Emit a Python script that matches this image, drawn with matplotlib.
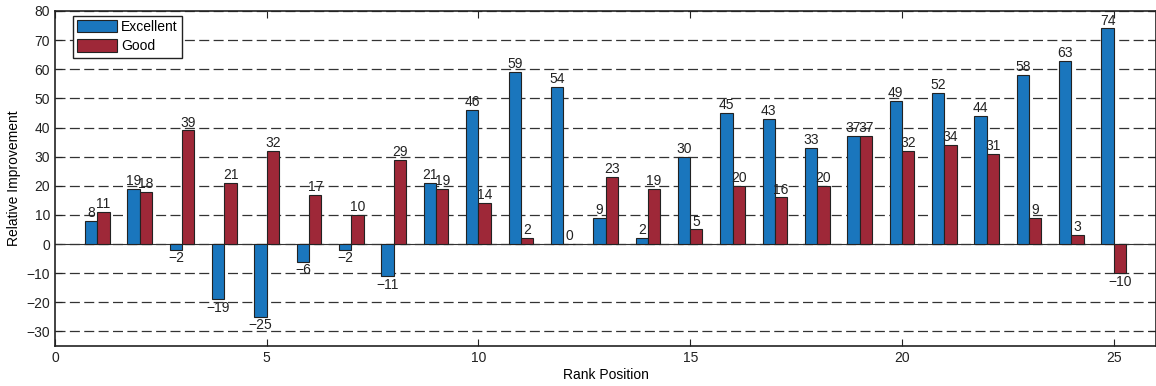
import numpy as np
import matplotlib.pyplot as plt

plt.rcParams['font.family'] = ['Liberation Sans', 'DejaVu Sans']

positions = list(range(1, 26))
excellent = [8, 19, -2, -19, -25, -6, -2, -11, 21, 46, 59, 54, 9, 2, 30,
             45, 43, 33, 37, 49, 52, 44, 58, 63, 74]
good = [11, 18, 39, 21, 32, 17, 10, 29, 19, 14, 2, 0, 23, 19, 5,
        20, 16, 20, 37, 32, 34, 31, 9, 3, -10]

blue = '#1a76bd'
red = '#9e2838'
w = 0.29

fig = plt.figure(figsize=(11.56, 3.86), dpi=100)
ax = fig.add_axes([55 / 1156, 1 - 346 / 386, 1101 / 1156, 335 / 386])

x = np.array(positions)
b1 = ax.bar(x - w / 2, excellent, w, color=blue, edgecolor='#222222',
            linewidth=0.8, label='Excellent', zorder=3)
b2 = ax.bar(x + w / 2, good, w, color=red, edgecolor='#222222',
            linewidth=0.8, label='Good', zorder=3)

for bars, vals in ((b1, excellent), (b2, good)):
    for rect, v in zip(bars, vals):
        cx = rect.get_x() + rect.get_width() / 2
        txt = str(v).replace('-', '\u2212')
        if v >= 0:
            ax.text(cx, v + 0.3, txt, ha='center', va='bottom',
                    fontsize=10, color='#222222', zorder=4)
        else:
            ax.text(cx, v - 0.5, txt, ha='center', va='top',
                    fontsize=10, color='#222222', zorder=4)

ax.axhline(0, color='#333333', linewidth=0.8, zorder=2)
ax.set_xlim(0, 26)
ax.set_ylim(-35, 80)
ax.set_xticks(range(0, 26, 5))
ax.set_yticks(range(-30, 81, 10))
ax.set_yticklabels([str(t).replace('-', '\u2212') for t in range(-30, 81, 10)])
ax.yaxis.grid(True, linestyle=(0, (8, 3.5)), color='#333333', linewidth=0.9,
              zorder=0)
ax.set_axisbelow(True)
ax.tick_params(direction='in', top=True, right=True, labelsize=10,
               length=5, width=0.8, colors='#222222')
for s in ax.spines.values():
    s.set_linewidth(1.2)
    s.set_color('#222222')

ax.set_xlabel('Rank Position', fontsize=10, labelpad=2)
ax.set_ylabel('Relative Improvement', fontsize=10, labelpad=4)

leg = ax.legend(loc='upper left', bbox_to_anchor=(0.016, 0.986),
                fontsize=10, fancybox=False, framealpha=1,
                edgecolor='#222222', handlelength=2.9, handleheight=1.0,
                borderpad=0.3, labelspacing=0.4, handletextpad=0.3,
                borderaxespad=0)
leg.get_frame().set_linewidth(1.0)

fig.savefig('out.png', dpi=100)
plt.close(fig)
